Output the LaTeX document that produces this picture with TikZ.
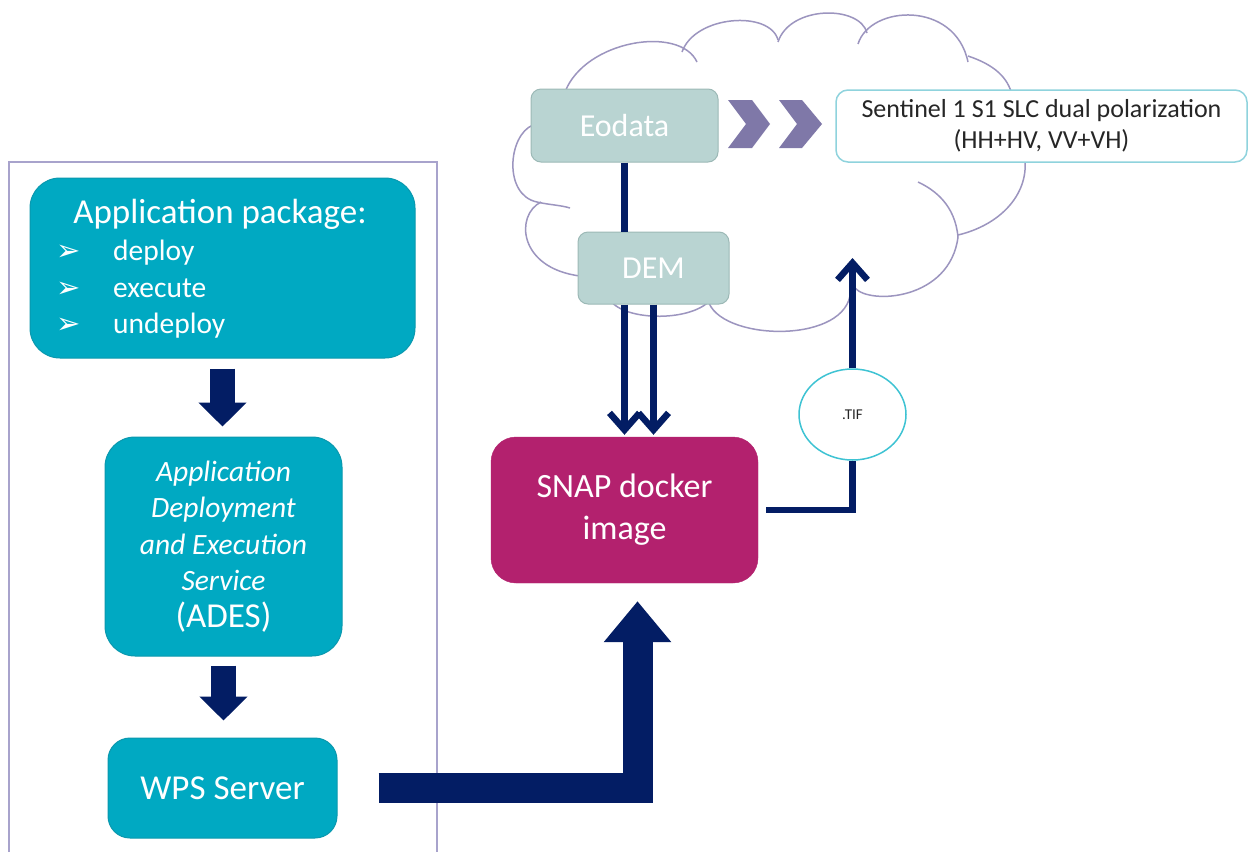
\documentclass[tikz,border=0pt]{standalone}
\usepackage{fontspec}
\setmainfont{Carlito}
\newfontfamily\dejavu{DejaVu Sans}
\usetikzlibrary{arrows.meta,shapes.geometric,calc}
\definecolor{teal1}{HTML}{00A9C2}
\definecolor{tealB}{HTML}{0A98AE}
\definecolor{navy}{HTML}{031D64}
\definecolor{snapc}{HTML}{B3216E}
\definecolor{eoc}{HTML}{B9D4D2}
\definecolor{eob}{HTML}{9CB9B6}
\definecolor{framec}{HTML}{A8A3CC}
\definecolor{cloudc}{HTML}{9C95BF}
\definecolor{chev}{HTML}{7F78A8}
\definecolor{sentb}{HTML}{8FD3DD}
\definecolor{tifb}{HTML}{3EC3D3}
\begin{document}
\begin{tikzpicture}[x=1pt,y=-1pt,
  tealbox/.style={draw=tealB, line width=1pt, fill=teal1, text=white, inner sep=0pt},
  greybox/.style={draw=eob, fill=eoc, rounded corners=10pt, text=white, line width=1pt, inner sep=0pt},
  blockarrow/.style={draw=navy, line width=25pt, -{Triangle[length=24pt,width=47pt]}},
  navyline/.style={draw=navy, line width=6.5pt},
  barbtip/.style={-{Straight Barb[length=17pt,width=30pt]}},
  cloudline/.style={draw=cloudc, line width=1.5pt},
  bullettxt/.style={anchor=base west, text=white, font=\fontsize{29.5}{34}\selectfont, inner sep=0pt},
  bulletsym/.style={anchor=base west, text=white, font=\dejavu\fontsize{29}{32}\selectfont, inner sep=0pt}
]
\useasboundingbox (0,0) rectangle (1250,852);
\fill[white] (0,0) rectangle (1250,852);

% frame
\draw[framec, line width=1.5pt] (9,852) -- (9,162) -- (437,162) -- (437,852);

% cloud
\draw[cloudline] (533,125) .. controls (508,135) and (503,195) .. (537,202) .. controls (550,205) and (560,205) .. (570,208);
\draw[cloudline] (541,202) .. controls (515,215) and (518,268) .. (580,276);
\draw[cloudline] (610,300) .. controls (625,322) and (695,322) .. (712,298);
\draw[cloudline] (708,300) .. controls (718,340) and (840,345) .. (850,296);
\draw[cloudline] (855,288) .. controls (870,305) and (950,300) .. (958,237) .. controls (955,205) and (935,190) .. (918,182);
\draw[cloudline] (958,235) .. controls (1000,225) and (1028,195) .. (1025,160);
\draw[cloudline] (968,56) .. controls (995,65) and (1008,78) .. (1012,95);
\draw[cloudline] (858,44) .. controls (870,5) and (955,0) .. (968,62);
\draw[cloudline] (778,42) .. controls (790,5) and (860,5) .. (867,33);
\draw[cloudline] (682,52) .. controls (695,15) and (770,10) .. (778,40);
\draw[cloudline] (565,92) .. controls (585,40) and (680,25) .. (697,62);

% chevrons
\fill[chev] (728,100) -- (752,100) -- (770,124) -- (752,148) -- (728,148) -- (746,124) -- cycle;
\fill[chev] (779,100) -- (802,100) -- (822,124) -- (802,148) -- (779,148) -- (797,124) -- cycle;

% boxes
\node[tealbox, rounded corners=30pt, minimum width=385pt, minimum height=180pt] (app) at (222.5,268) {};
\node[anchor=base, text=white, font=\fontsize{35}{40}\selectfont, inner sep=0pt] (apptitle) at (220,223) {Application package:};
\node[bulletsym] (s1) at (56,260) {➢};
\node[bullettxt] (b1) at (113,260) {deploy};
\node[bulletsym] (s2) at (56,297) {➢};
\node[bullettxt] (b2) at (113,297) {execute};
\node[bulletsym] (s3) at (56,333) {➢};
\node[bullettxt] (b3) at (113,333) {undeploy};

\node[tealbox, rounded corners=30pt, minimum width=237pt, minimum height=219pt, align=center,
      font=\fontsize{29.5}{36.5}\selectfont] (ades) at (223.5,546.5)
  {\itshape Application\\\itshape Deployment\\\itshape and Execution\\\itshape Service\\\upshape\fontsize{35}{36.5}\selectfont (ADES)};

\node[tealbox, rounded corners=22pt, minimum width=229pt, minimum height=100pt,
      font=\fontsize{35}{40}\selectfont] (wps) at (222.5,788) {WPS Server};

\node[draw=snapc, fill=snapc, rounded corners=25pt, minimum width=267pt, minimum height=146pt,
      text=white, align=center, inner sep=0pt, font=\fontsize{34}{42}\selectfont] (snap) at (624.5,510) {SNAP docker\\image};

\node[greybox, minimum width=187pt, minimum height=73pt, font=\fontsize{32}{36}\selectfont] (eodata) at (624.5,125.5) {Eodata};
\node[greybox, minimum width=151pt, minimum height=72pt, font=\fontsize{32}{36}\selectfont] (dem) at (653.5,268) {DEM};

\node[draw=sentb, fill=white, line width=1.5pt, rounded corners=12pt, minimum width=411pt, minimum height=72pt,
      align=center, text=black!85, inner sep=0pt, font=\fontsize{26}{31}\selectfont] (sent) at (1041.5,126)
  {Sentinel 1 S1 SLC dual polarization\\(HH+HV, VV+VH)};

% connectors
\draw[blockarrow, shorten <=10pt, shorten >=10pt] (app.south) -- (app.south |- ades.north);
\draw[blockarrow, shorten <=9pt, shorten >=17pt] (ades.south) -- (ades.south |- wps.north);
\draw[draw=navy, line width=30pt, -{Triangle[length=41pt,width=65pt]}]
  ([xshift=41pt]wps.east) -| ([xshift=13pt,yshift=-18pt]snap.south);

\draw[navyline] (eodata.south) -- (eodata.south |- dem.north);
\draw[navyline, barbtip, shorten >=2pt] (eodata.south |- dem.south) -- (eodata.south |- snap.north);
\draw[navyline, barbtip, shorten >=2pt] (dem.south) -- (dem.south |- snap.north);

\node[ellipse, draw=tifb, fill=white, line width=1.5pt, minimum width=107pt, minimum height=91pt,
      inner sep=0pt, text=black!85, font=\fontsize{15}{17}\selectfont] (tif) at (852.5,414.5) {.TIF};
\coordinate (cloudin) at (852.5,258);
\draw[navyline] ([xshift=8pt]snap.east) -| (tif.south);
\draw[navyline, barbtip] (tif.north) -- (cloudin);
\end{tikzpicture}
\end{document}
